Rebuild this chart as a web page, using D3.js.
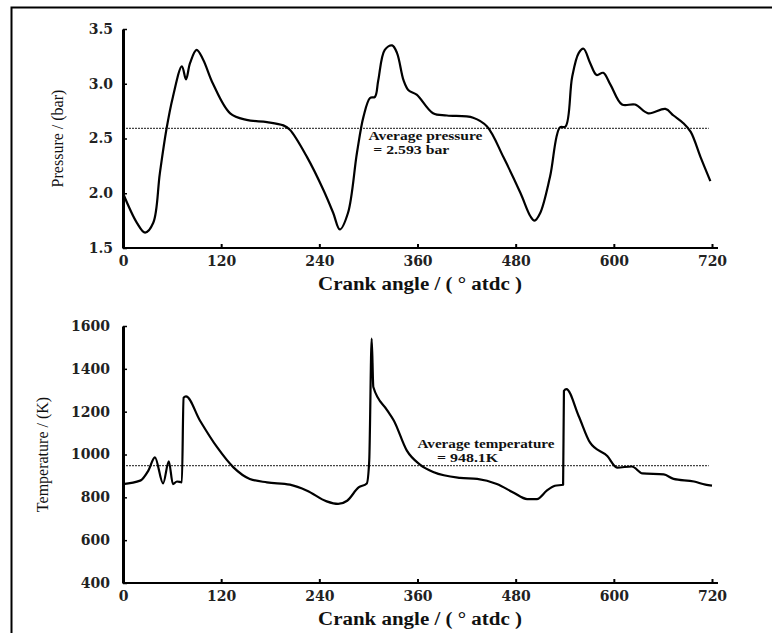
<!DOCTYPE html>
<html>
<head>
<meta charset="utf-8">
<script src="https://cdn.jsdelivr.net/npm/d3@7"></script>
<style>
  body { margin: 0; background: #fff; }
  svg { display: block; font-family: "Liberation Serif", "DejaVu Serif", serif; }
</style>
</head>
<body>
<script>
// crank angle (deg atdc) and cylinder pressure (bar)
const pAngle = [0, 17, 27, 37, 45, 53, 61, 72, 77, 82, 90, 98, 110, 131, 151, 176, 196, 204, 225, 245, 257, 265, 275, 286, 294, 302, 308, 312, 320, 329, 335, 343, 349, 359, 379, 396, 428, 445, 465, 486, 498, 503, 510, 522, 534, 541, 549, 557, 563, 571, 579, 587, 596, 610, 626, 642, 663, 673, 685, 694, 706, 718];
const pValue = [2.0, 1.73, 1.64, 1.73, 2.18, 2.58, 2.88, 3.16, 3.04, 3.19, 3.31, 3.22, 3.0, 2.73, 2.67, 2.65, 2.62, 2.58, 2.33, 2.03, 1.82, 1.67, 1.82, 2.37, 2.70, 2.87, 2.88, 3.03, 3.31, 3.35, 3.28, 3.03, 2.94, 2.90, 2.73, 2.71, 2.69, 2.61, 2.33, 2.0, 1.79, 1.75, 1.82, 2.15, 2.60, 2.61, 3.06, 3.28, 3.32, 3.19, 3.08, 3.10, 2.99, 2.81, 2.81, 2.73, 2.77, 2.71, 2.64, 2.56, 2.33, 2.11];

// crank angle (deg atdc) and gas temperature (K)
const tAngle = [0, 21, 31, 39, 49, 56, 61, 66, 72, 74, 77, 94, 115, 135, 155, 176, 204, 225, 249, 263, 274, 288, 298, 301, 304, 306, 323, 331, 347, 363, 380, 412, 433, 457, 477, 494, 506, 518, 528, 538, 539, 542, 557, 571, 592, 604, 622, 635, 661, 673, 698, 712, 720];
const tValue = [862, 878, 925, 987, 865, 968, 862, 874, 870, 1265, 1271, 1159, 1034, 940, 886, 870, 859, 831, 781, 769, 784, 846, 865, 971, 1541, 1315, 1206, 1159, 1018, 953, 917, 891, 886, 862, 823, 792, 792, 831, 854, 859, 1297, 1305, 1180, 1055, 993, 939, 944, 912, 907, 886, 874, 859, 855];

const xTicks = [0, 120, 240, 360, 480, 600, 720];
const pTicks = [1.5, 2.0, 2.5, 3.0, 3.5];
const tTicks = [400, 600, 800, 1000, 1200, 1400, 1600];
const pAverage = 2.593;
const tAverage = 948.1;

const width = 772, height = 633;

const svg = d3.select("body").append("svg")
    .attr("width", width)
    .attr("height", height);

// frame (top and left edges only)
svg.append("path")
    .attr("d", `M772,7.5H11.5V633`)
    .attr("fill", "none")
    .attr("stroke", "#000")
    .attr("stroke-width", 2);

function panel(opts) {
  const x = d3.scaleLinear().domain([0, 720]).range([123, 712]);
  const y = d3.scaleLinear().domain(opts.yDomain).range(opts.yRange);
  const g = svg.append("g");

  // average line
  g.append("line")
      .attr("x1", x(0)).attr("x2", x(716))
      .attr("y1", y(opts.avg)).attr("y2", y(opts.avg))
      .attr("stroke", "#444")
      .attr("stroke-width", 1.2)
      .attr("stroke-dasharray", "2,1");

  // x axis
  const xa = g.append("g")
      .attr("transform", `translate(0,${opts.yRange[0]})`)
      .call(d3.axisBottom(x).tickValues(xTicks).tickSizeInner(-4).tickSizeOuter(0).tickPadding(8).tickFormat(d3.format("d")));
  xa.select(".domain").attr("d", `M${x(0)},0H${x(720) + 6}`).attr("stroke-width", 2.2);
  xa.selectAll(".tick line").attr("stroke-width", 2);
  xa.selectAll(".tick text")
      .attr("font-family", "DejaVu Serif, serif")
      .attr("font-weight", "bold")
      .attr("font-size", 14)
      .attr("fill", "#222");

  // y axis
  const ya = g.append("g")
      .attr("transform", `translate(${x(0)},0)`)
      .call(d3.axisLeft(y).tickValues(opts.ticks).tickSizeInner(-4).tickSizeOuter(0).tickPadding(opts.tickPad).tickFormat(opts.fmt));
  ya.select(".domain").attr("stroke-width", 3);
  ya.selectAll(".tick line").attr("stroke-width", 1.5);
  ya.selectAll(".tick text")
      .attr("font-family", "DejaVu Serif, serif")
      .attr("font-weight", "bold")
      .attr("font-size", 14)
      .attr("fill", "#222");

  // data curve
  const line = d3.line()
      .x((d, i) => x(opts.angle[i]))
      .y(d => y(d))
      .curve(opts.curve);
  g.append("path")
      .datum(opts.values)
      .attr("d", line)
      .attr("fill", "none")
      .attr("stroke", "#000")
      .attr("stroke-width", 2.2)
      .attr("stroke-linejoin", "round");

  // axis titles
  g.append("text")
      .attr("x", 420)
      .attr("y", opts.yRange[0] + 42)
      .attr("text-anchor", "middle")
      .attr("font-weight", "bold")
      .attr("font-size", 18)
      .attr("textLength", 204)
      .attr("lengthAdjust", "spacingAndGlyphs")
      .attr("fill", "#111")
      .text("Crank angle / ( \u00b0 atdc )");

  g.append("text")
      .attr("transform", `translate(${opts.titleX},${(opts.yRange[0] + opts.yRange[1]) / 2}) rotate(-90)`)
      .attr("text-anchor", "middle")
      .attr("font-size", 16)
      .attr("fill", "#111")
      .text(opts.title);

  // average annotation, two lines
  opts.annText.forEach((t, i) => {
    g.append("text")
        .attr("x", x(opts.ann[i][0]))
        .attr("y", y(opts.ann[i][1]))
        .attr("font-weight", "bold")
        .attr("font-size", 12)
        .attr("textLength", opts.annLen[i])
        .attr("lengthAdjust", "spacingAndGlyphs")
        .attr("fill", "#111")
        .text(t);
  });
}

panel({
  yDomain: [1.5, 3.5], yRange: [248, 29],
  ticks: pTicks, fmt: d3.format(".1f"), tickPad: 10,
  angle: pAngle, values: pValue, avg: pAverage, curve: d3.curveCatmullRom.alpha(0.5),
  title: "Pressure / (bar)", titleX: 63,
  ann: [[300, 2.486], [306, 2.358]], annLen: [114, 76],
  annText: ["Average pressure", "= 2.593 bar"]
});

panel({
  yDomain: [400, 1600], yRange: [583, 326],
  ticks: tTicks, fmt: d3.format("d"), tickPad: 13,
  angle: tAngle, values: tValue, avg: tAverage, curve: d3.curveMonotoneX,
  title: "Temperature / (K)", titleX: 48,
  ann: [[360, 1030], [384, 965]], annLen: [137, 61],
  annText: ["Average temperature", "= 948.1K"]
});
</script>
</body>
</html>
